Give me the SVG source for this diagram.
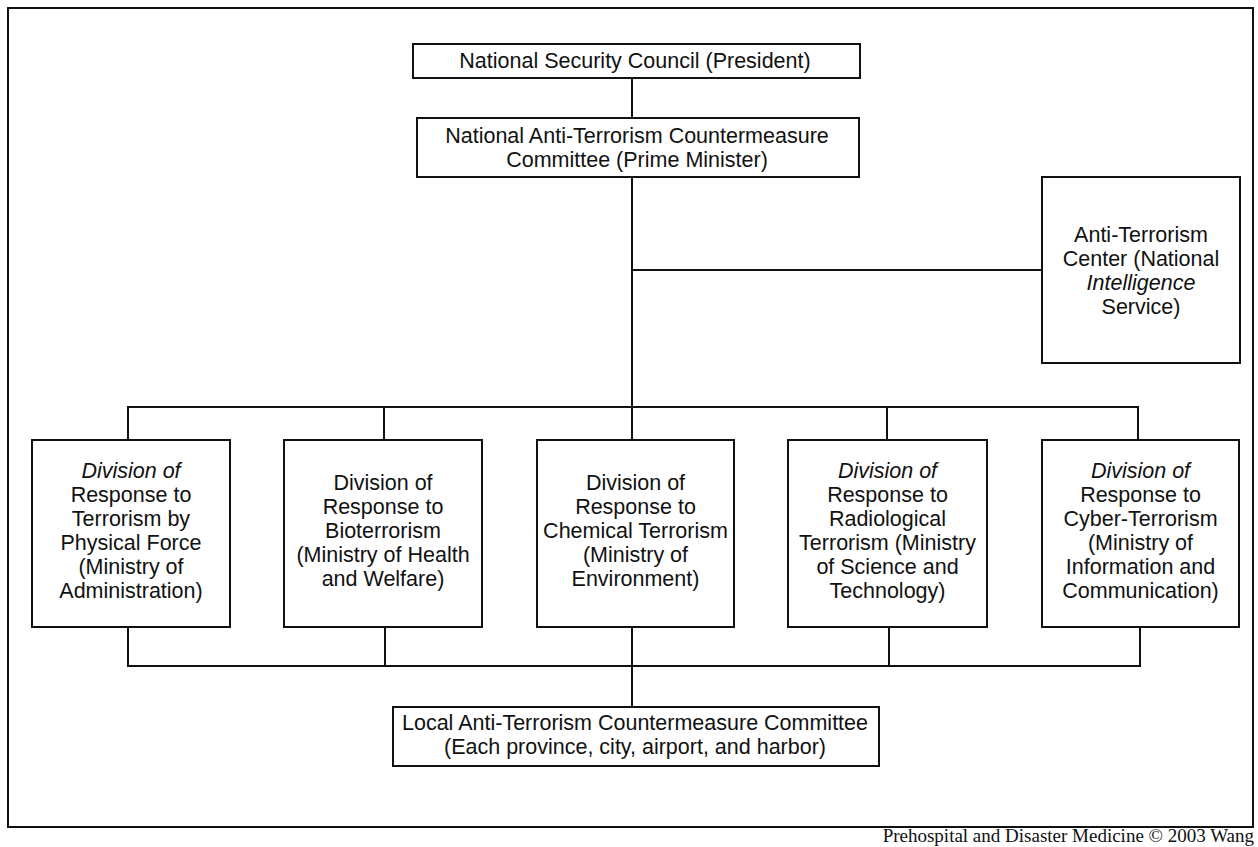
<svg xmlns="http://www.w3.org/2000/svg" width="1258" height="847" viewBox="0 0 1258 847">
<style>
  .box { fill: #fff; stroke: #111; stroke-width: 2; }
  .frame { fill: none; stroke: #111; stroke-width: 2; }
  .conn { fill: none; stroke: #111; stroke-width: 2; }
  .t { font-family: "Liberation Sans", Arial, Helvetica, sans-serif; font-size: 21.5px; fill: #111; text-anchor: middle; }
  .i { font-style: italic; }
  .cap { font-family: "Liberation Serif", "Times New Roman", serif; font-size: 19px; fill: #111; text-anchor: end; }
</style>
<rect x="0" y="0" width="1258" height="847" fill="#fff"/>
<rect class="frame" x="8" y="8" width="1245" height="819"/>

<g id="connectors">
  <line class="conn" x1="632" y1="78" x2="632" y2="118"/>
  <line class="conn" x1="632" y1="177" x2="632" y2="440"/>
  <line class="conn" x1="632" y1="270" x2="1042" y2="270"/>
  <polyline class="conn" points="128,440 128,407 1138,407 1138,440"/>
  <line class="conn" x1="384" y1="407" x2="384" y2="440"/>
  <line class="conn" x1="887" y1="407" x2="887" y2="440"/>
  <polyline class="conn" points="128,627 128,666 1140,666 1140,627"/>
  <line class="conn" x1="385" y1="627" x2="385" y2="666"/>
  <line class="conn" x1="632" y1="627" x2="632" y2="707"/>
  <line class="conn" x1="889" y1="627" x2="889" y2="666"/>
</g>

<g id="nsc">
  <rect class="box" x="413" y="44" width="447" height="34"/>
  <text class="t" x="635" y="68">National Security Council (President)</text>
</g>

<g id="natcom">
  <rect class="box" x="417" y="118" width="442" height="59"/>
  <text class="t" x="637" y="143">National Anti-Terrorism Countermeasure</text>
  <text class="t" x="637" y="167">Committee (Prime Minister)</text>
</g>

<g id="atc">
  <rect class="box" x="1042" y="177" width="198" height="186"/>
  <text class="t" x="1141" y="242">Anti-Terrorism</text>
  <text class="t" x="1141" y="266">Center (National</text>
  <text class="t i" x="1141" y="290">Intelligence</text>
  <text class="t" x="1141" y="314">Service)</text>
</g>

<g id="div-physical">
  <rect class="box" x="32" y="440" width="198" height="187"/>
  <text class="t i" x="131" y="478">Division of</text>
  <text class="t" x="131" y="502">Response to</text>
  <text class="t" x="131" y="526">Terrorism by</text>
  <text class="t" x="131" y="550">Physical Force</text>
  <text class="t" x="131" y="574">(Ministry of</text>
  <text class="t" x="131" y="598">Administration)</text>
</g>

<g id="div-bio">
  <rect class="box" x="284" y="440" width="198" height="187"/>
  <text class="t" x="383" y="490">Division of</text>
  <text class="t" x="383" y="514">Response to</text>
  <text class="t" x="383" y="538">Bioterrorism</text>
  <text class="t" x="383" y="562">(Ministry of Health</text>
  <text class="t" x="383" y="586">and Welfare)</text>
</g>

<g id="div-chem">
  <rect class="box" x="537" y="440" width="197" height="187"/>
  <text class="t" x="635.5" y="490">Division of</text>
  <text class="t" x="635.5" y="514">Response to</text>
  <text class="t" x="635.5" y="538">Chemical Terrorism</text>
  <text class="t" x="635.5" y="562">(Ministry of</text>
  <text class="t" x="635.5" y="586">Environment)</text>
</g>

<g id="div-rad">
  <rect class="box" x="788" y="440" width="199" height="187"/>
  <text class="t i" x="887.5" y="478">Division of</text>
  <text class="t" x="887.5" y="502">Response to</text>
  <text class="t" x="887.5" y="526">Radiological</text>
  <text class="t" x="887.5" y="550">Terrorism (Ministry</text>
  <text class="t" x="887.5" y="574">of Science and</text>
  <text class="t" x="887.5" y="598">Technology)</text>
</g>

<g id="div-cyber">
  <rect class="box" x="1042" y="440" width="197" height="187"/>
  <text class="t i" x="1140.5" y="478">Division of</text>
  <text class="t" x="1140.5" y="502">Response to</text>
  <text class="t" x="1140.5" y="526">Cyber-Terrorism</text>
  <text class="t" x="1140.5" y="550">(Ministry of</text>
  <text class="t" x="1140.5" y="574">Information and</text>
  <text class="t" x="1140.5" y="598">Communication)</text>
</g>

<g id="local">
  <rect class="box" x="393" y="707" width="486" height="59"/>
  <text class="t" x="635" y="730">Local Anti-Terrorism Countermeasure Committee</text>
  <text class="t" x="635" y="754">(Each province, city, airport, and harbor)</text>
</g>

<text class="cap" x="1254" y="842">Prehospital and Disaster Medicine © 2003 Wang</text>
</svg>
